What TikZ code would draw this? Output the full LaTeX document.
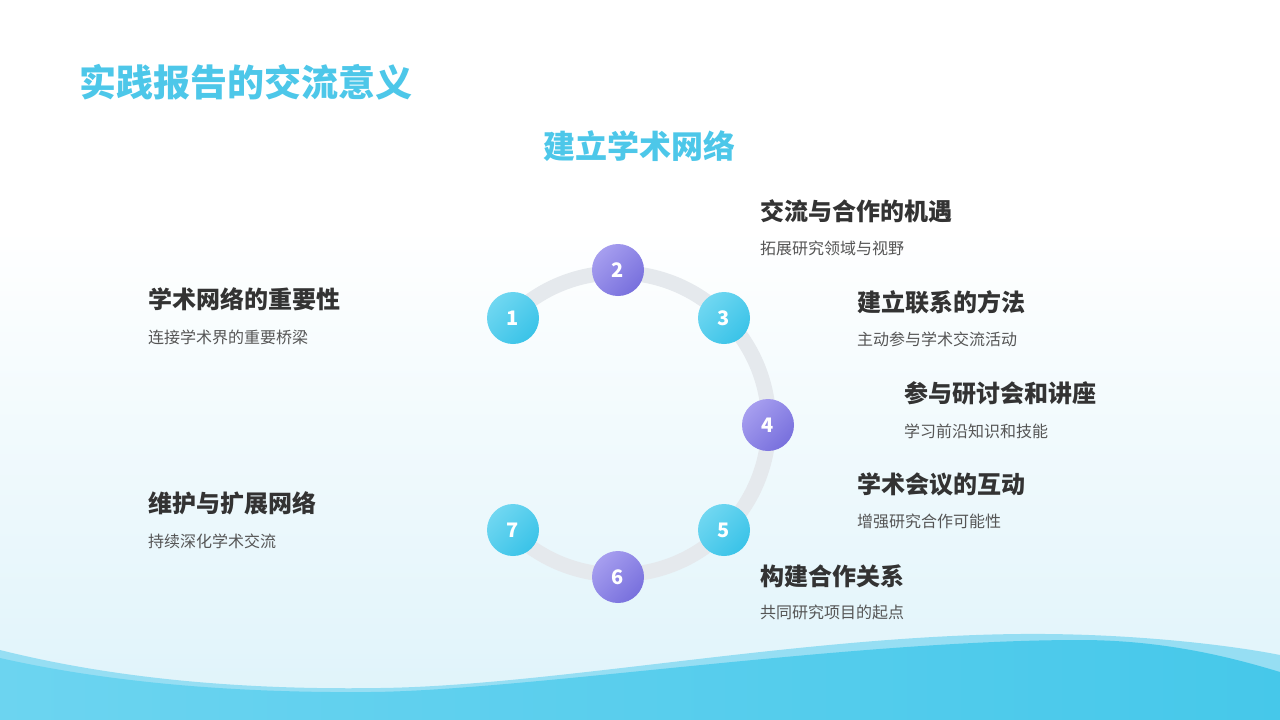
\documentclass[tikz,border=0pt]{standalone}
\usepackage{fontspec}
\setmainfont{Noto Sans CJK SC}
\usetikzlibrary{calc}
\definecolor{titlecyan}{RGB}{77,199,233}
\definecolor{headgray}{RGB}{51,51,51}
\definecolor{subgray}{RGB}{85,85,85}
\definecolor{ringgray}{RGB}{229,233,237}
\definecolor{cyanA}{RGB}{112,215,241}
\definecolor{cyanB}{RGB}{58,195,232}
\definecolor{purpA}{RGB}{166,158,239}
\definecolor{purpB}{RGB}{120,112,221}
\definecolor{bgmid}{RGB}{246,252,254}
\definecolor{bgbot}{RGB}{222,243,250}
\definecolor{wavelight}{RGB}{150,222,243}
\definecolor{waveA}{RGB}{108,212,240}
\definecolor{waveB}{RGB}{70,200,234}
\tikzset{
  numdot/.style={circle, minimum size=52pt, inner sep=0pt, text=white,
    font=\bfseries\fontsize{20}{20}\selectfont},
  dotcyan/.style={numdot, top color=cyanA, bottom color=cyanB, shading angle=45},
  dotpurp/.style={numdot, top color=purpA, bottom color=purpB, shading angle=45},
  heading/.style={anchor=west, inner sep=0pt, text=headgray,
    font=\bfseries\fontsize{24}{24}\selectfont},
  note/.style={anchor=west, inner sep=0pt, text=subgray,
    font=\fontsize{16}{16}\selectfont},
}
\begin{document}
\begin{tikzpicture}[x=1pt,y=-1pt]
 \useasboundingbox (0,0) rectangle (1280,720);
 % background and waves
 \fill[white] (0,0) rectangle (1280,230);
 \shade[top color=white, middle color=bgmid, bottom color=bgbot] (0,229) rectangle (1280,720);
 \fill[wavelight] (0,650) .. controls (120,680) and (250,690) .. (380,688)
   .. controls (550,686) and (800,636) .. (1020,634)
   .. controls (1130,633) and (1230,645) .. (1280,655) -- (1280,720) -- (0,720) -- cycle;
 \shade[left color=waveA, right color=waveB] (0,658) .. controls (120,685) and (250,693) .. (370,692)
   .. controls (520,691) and (850,640) .. (1080,640)
   .. controls (1170,640) and (1240,660) .. (1280,672) -- (1280,720) -- (0,720) -- cycle;
 % titles
 \node[anchor=west, inner sep=0pt, text=titlecyan, font=\bfseries\fontsize{37}{37}\selectfont] (title) at (79,82) {实践报告的交流意义};
 \node[inner sep=0pt, text=titlecyan, font=\bfseries\fontsize{32}{32}\selectfont] (sub) at (639,146) {建立学术网络};
 % ring
 \coordinate (c) at (618,424);
 \draw[ringgray, line width=15pt] ($(c)+(-107,-107)$) arc[start angle=-135, end angle=135, radius=151];
 % numbered dots
 \node[dotcyan] (n1) at (513,318) {1};
 \node[dotpurp] (n2) at (618,270) {2};
 \node[dotcyan] (n3) at (724,318) {3};
 \node[dotpurp] (n4) at (768,425) {4};
 \node[dotcyan] (n5) at (724,530) {5};
 \node[dotpurp] (n6) at (618,577) {6};
 \node[dotcyan] (n7) at (513,530) {7};
 % labels
 \node[heading] (h1) at (148,299) {学术网络的重要性};
 \node[note] (s1) at (148,337) {连接学术界的重要桥梁};
 \node[heading] (h2) at (760,211) {交流与合作的机遇};
 \node[note] (s2) at (760,248) {拓展研究领域与视野};
 \node[heading] (h3) at (857,302) {建立联系的方法};
 \node[note] (s3) at (857,339) {主动参与学术交流活动};
 \node[heading] (h4) at (904,393) {参与研讨会和讲座};
 \node[note] (s4) at (904,431) {学习前沿知识和技能};
 \node[heading] (h5) at (857,484) {学术会议的互动};
 \node[note] (s5) at (857,521) {增强研究合作可能性};
 \node[heading] (h6) at (760,576) {构建合作关系};
 \node[note] (s6) at (760,612) {共同研究项目的起点};
 \node[heading] (h7) at (148,503) {维护与扩展网络};
 \node[note] (s7) at (148,541) {持续深化学术交流};
\end{tikzpicture}
\end{document}
